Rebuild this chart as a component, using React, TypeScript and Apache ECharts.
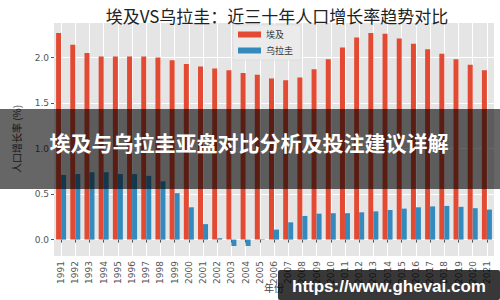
import React, { useEffect, useRef } from "react";
import * as echarts from "echarts";

const years = [
  "1991","1992","1993","1994","1995","1996","1997","1998","1999","2000",
  "2001","2002","2003","2004","2005","2006","2007","2008","2009","2010",
  "2011","2012","2013","2014","2015","2016","2017","2018","2019","2020","2021",
];
const egypt = [
  2.27, 2.14, 2.05, 2.01, 2.01, 2.01, 2.01, 2.0, 1.97, 1.93,
  1.9, 1.88, 1.86, 1.83, 1.81, 1.77, 1.75, 1.78, 1.87, 1.98,
  2.11, 2.22, 2.27, 2.26, 2.21, 2.15, 2.09, 2.04, 1.98, 1.92, 1.86,
];
const uruguay = [
  0.71, 0.72, 0.74, 0.74, 0.72, 0.72, 0.7, 0.64, 0.51, 0.355,
  0.17, 0.015, -0.07, -0.07, 0.005, 0.11, 0.19, 0.26, 0.285, 0.29,
  0.29, 0.3, 0.31, 0.325, 0.34, 0.355, 0.365, 0.37, 0.36, 0.345, 0.33,
];
const seriesNames = ["埃及", "乌拉圭"];
const titleText = "埃及VS乌拉圭：近三十年人口增长率趋势对比";
const yName = "人口增长率 (%)";
const xName = "年份";
const bannerText = "埃及与乌拉圭亚盘对比分析及投注建议详解";
const watermark = "https://www.ghevai.com";

const CJK = "'Noto Sans CJK SC', 'DejaVu Sans', sans-serif";
const NUM = "'DejaVu Sans', sans-serif";
const URLF = "'Liberation Sans', Arial, sans-serif";

export default function App() {
  const ref = useRef<HTMLDivElement>(null);
  useEffect(() => {
    document.body.style.margin = "0";
    if (!ref.current) return;
    const chart = echarts.init(ref.current, undefined, { renderer: "svg" });
    chart.setOption({
      animation: false,
      backgroundColor: "#ffffff",
      title: {
        text: titleText,
        left: 272,
        top: 2,
        textAlign: "center",
        textStyle: { fontFamily: CJK, fontSize: 17, fontWeight: "normal", color: "#222" },
      },
      legend: {
        orient: "vertical",
        left: 233,
        top: 25,
        padding: [5, 8, 5, 5],
        itemWidth: 23,
        itemHeight: 6,
        itemGap: 7,
        icon: "rect",
        backgroundColor: "#EBEBEB",
        borderColor: "#d0d0d0",
        borderWidth: 0.5,
        textStyle: { fontFamily: CJK, fontSize: 9, color: "#333" },
        data: seriesNames,
      },
      grid: {
        left: 54,
        right: 6,
        top: 22,
        bottom: 44,
        containLabel: false,
        outerBoundsMode: "none",
        show: true,
        backgroundColor: "#E5E5E5",
        borderWidth: 0,
      },
      xAxis: {
        type: "category",
        data: years,
        name: xName,
        nameLocation: "middle",
        nameGap: 26,
        nameMoveOverlap: false,
        nameTextStyle: { fontFamily: CJK, fontSize: 10, color: "#444" },
        axisLine: { show: false },
        axisTick: { show: true, alignWithLabel: true, length: 3, lineStyle: { color: "#555" } },
        axisLabel: { rotate: 90, fontFamily: NUM, fontSize: 9, color: "#555", margin: 5, interval: 0 },
        splitLine: { show: true, alignWithLabel: true, lineStyle: { color: "#ffffff", width: 1 } },
      },
      yAxis: {
        type: "value",
        min: -0.18,
        max: 2.39,
        splitNumber: 5,
        name: yName,
        nameLocation: "middle",
        nameGap: 33,
        nameMoveOverlap: false,
        nameRotate: 90,
        nameTextStyle: { fontFamily: CJK, fontSize: 10, color: "#444" },
        axisLine: { show: false },
        axisTick: { show: true, length: 3, lineStyle: { color: "#555" } },
        axisLabel: {
          fontFamily: NUM,
          fontSize: 9,
          color: "#555",
          margin: 5,
          showMinLabel: false,
          showMaxLabel: false,
          formatter: (v: number) => v.toFixed(1),
        },
        splitLine: { show: true, lineStyle: { color: "#ffffff", width: 1 } },
      },
      series: [
        {
          name: seriesNames[0],
          type: "bar",
          data: egypt,
          barWidth: 5,
          barGap: "0%",
          itemStyle: { color: "#E24A33" },
        },
        {
          name: seriesNames[1],
          type: "bar",
          data: uruguay,
          barWidth: 5,
          barGap: "0%",
          itemStyle: { color: "#348ABD" },
        },
      ],
      graphic: [
        {
          type: "rect",
          z: 100,
          shape: { x: 0, y: 109, width: 500, height: 80 },
          style: { fill: "rgba(0,0,0,0.6)" },
        },
        {
          type: "text",
          z: 101,
          x: 249,
          y: 142,
          style: {
            text: bannerText,
            fill: "#ffffff",
            font: `bold 21px ${CJK}`,
            textAlign: "center",
            textVerticalAlign: "middle",
          },
        },
        {
          type: "rect",
          z: 100,
          shape: { x: 278, y: 270, width: 222, height: 30, r: 2 },
          style: { fill: "rgba(0,0,0,0.78)" },
        },
        {
          type: "text",
          z: 101,
          x: 389,
          y: 286,
          style: {
            text: watermark,
            fill: "#ffffff",
            font: `bold 17px ${URLF}`,
            textAlign: "center",
            textVerticalAlign: "middle",
          },
        },
      ],
    });
    return () => chart.dispose();
  }, []);
  return <div ref={ref} style={{ width: 500, height: 300 }} />;
}
